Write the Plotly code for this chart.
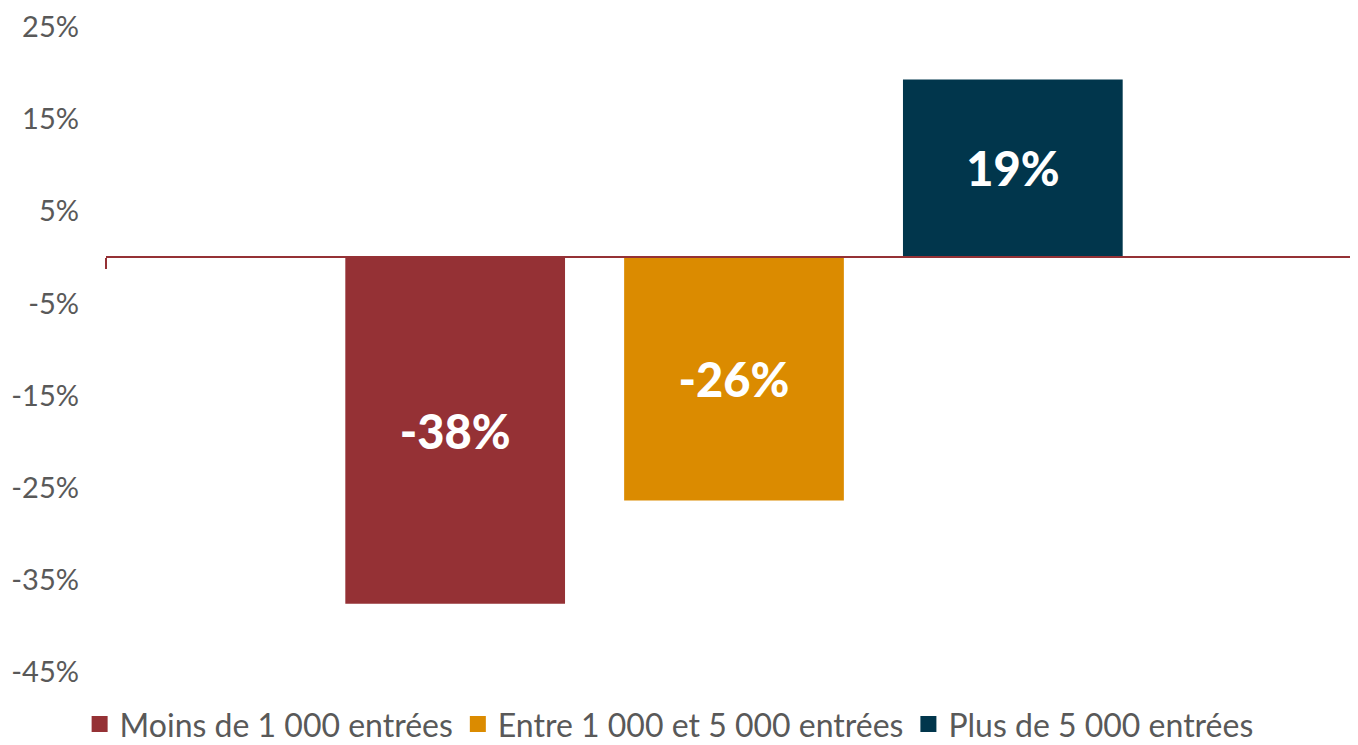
import plotly.graph_objects as go

# Données
series = ["Moins de 1 000 entrées", "Entre 1 000 et 5 000 entrées", "Plus de 5 000 entrées"]
values = [-37.6, -26.4, 19.3]
labels = ["-38%", "-26%", "19%"]
colors = ["#953135", "#DB8B00", "#01364C"]
tick_vals = [25, 15, 5, -5, -15, -25, -35, -45]
tick_text = ["25%", "15%", "5%", "-5%", "-15%", "-25%", "-35%", "-45%"]

FONT = "Lato, sans-serif"
GREY = "#595959"

fig = go.Figure()
for name, v, lab, c in zip(series, values, labels, colors):
    fig.add_trace(go.Bar(
        x=[""],
        y=[v],
        name=name,
        marker_color=c,
        marker_line_width=0,
        text=[lab],
        textposition="inside",
        insidetextanchor="middle",
        textangle=0,
        textfont=dict(size=47, color="white", family="Lato Black, Lato, sans-serif", weight="bold"),
        hovertemplate="%{y:.0f}%<extra>" + name + "</extra>",
        showlegend=False,
    ))

# Entrées de légende à carrés plus grands
for name, c in zip(series, colors):
    fig.add_trace(go.Scatter(
        x=[None], y=[None],
        mode="markers",
        marker=dict(symbol="square", size=17, color=c),
        name=name,
    ))

# la page a une marge de 8 px : on compense à gauche et en haut
fig.update_layout(
    width=1358,
    height=745,
    barmode="group",
    bargap=0.334,
    bargroupgap=0.212,
    plot_bgcolor="white",
    paper_bgcolor="white",
    font=dict(family=FONT, color=GREY),
    margin=dict(l=98, r=4, t=19, b=81, autoexpand=False),
    xaxis=dict(
        anchor="free",
        position=45 / 70,
        showline=True,
        linecolor="#953135",
        linewidth=2,
        ticks="outside",
        tickson="boundaries",
        ticklen=11,
        tickwidth=2,
        tickcolor="#953135",
        showticklabels=False,
        showgrid=False,
        zeroline=False,
        automargin=False,
    ),
    yaxis=dict(
        range=[-45, 25],
        tickvals=tick_vals,
        ticktext=tick_text,
        tickfont=dict(size=29, color=GREY, family=FONT),
        ticklabelstandoff=26,
        showgrid=False,
        zeroline=False,
        showline=False,
        automargin=False,
    ),
    legend=dict(
        orientation="h",
        x=-0.021,
        xanchor="left",
        y=-0.081,
        yanchor="middle",
        font=dict(size=32, color=GREY, family=FONT),
        itemwidth=30,
        itemsizing="trace",
        bgcolor="rgba(0,0,0,0)",
    ),
    showlegend=True,
)

fig.write_html("out.html")
